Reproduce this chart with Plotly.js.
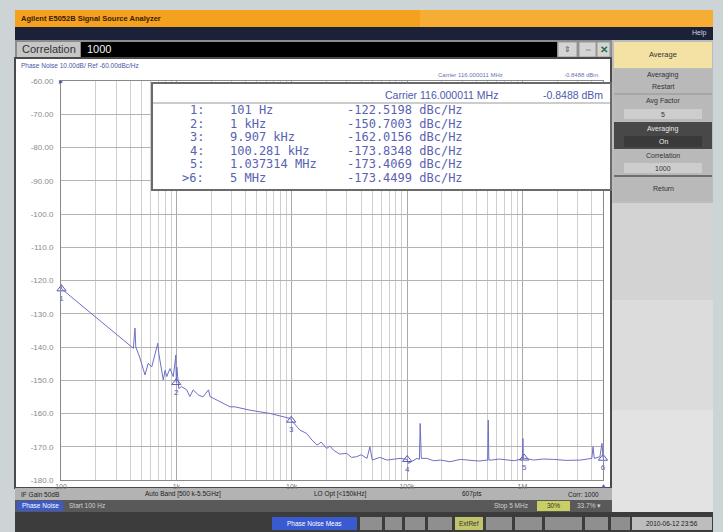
<!DOCTYPE html>
<html><head><meta charset="utf-8">
<script src="https://cdn.plot.ly/plotly-3.0.1.min.js"></script>
<style>html,body{margin:0;padding:0;background:#cdd4d5;}#chart{width:723px;height:532px;}</style>
</head><body><div id="chart"></div>
<script>
// ---- data ----
const freqHz = [100, 101, 424, 438, 445, 480, 535, 570, 612, 655, 690, 705, 722, 770, 800, 826, 880, 940, 975, 990, 1000, 1010, 1050, 1110, 1230, 1310, 1400, 1550, 1700, 1900, 1960, 2480, 2920, 3230, 4340, 6510, 9730, 9907, 11800, 13500, 15000, 16600, 18000, 20100, 21500, 23000, 26000, 30000, 33000, 36600, 40000, 45000, 47600, 50000, 58000, 67000, 78000, 87000, 100281, 103000, 122000, 128000, 130000, 133000, 148000, 170000, 195000, 236000, 290000, 354000, 420000, 500000, 506000, 512000, 540000, 630000, 730000, 850000, 1000000, 1010000, 1020000, 1037314, 1250000, 1500000, 1870000, 2400000, 3200000, 4000000, 4100000, 4200000, 4700000, 4900000, 5000000];
const phaseNoise = [-121.0, -122.5, -140.4, -134.3, -140.0, -143.0, -148.4, -144.9, -146.0, -142.4, -138.9, -142.0, -143.9, -149.9, -147.0, -148.9, -146.5, -148.9, -144.5, -142.4, -150.7, -146.0, -152.5, -151.9, -152.9, -154.9, -152.9, -154.4, -155.0, -152.9, -154.9, -156.7, -158.0, -158.0, -159.0, -160.0, -161.5, -162.0, -165.0, -166.0, -168.0, -169.5, -168.6, -170.5, -169.8, -171.0, -172.2, -172.0, -173.2, -173.0, -172.4, -173.5, -170.0, -174.0, -173.2, -174.0, -173.6, -173.5, -173.8, -175.0, -173.5, -173.8, -163.0, -173.5, -173.5, -174.2, -174.0, -174.5, -173.8, -174.0, -174.3, -174.0, -162.0, -174.0, -174.0, -173.7, -174.0, -174.2, -173.6, -167.5, -173.8, -173.4, -174.0, -173.7, -173.8, -174.1, -174.0, -173.5, -170.0, -173.5, -173.0, -169.0, -173.4];
const markerFreq = [101, 1000, 9907, 100281, 1037314, 5000000];
const markerVal = [-122.5198, -150.7003, -162.0156, -173.8348, -173.4069, -173.4499];
const markerNames = ["1", "2", "3", "4", "5", "6"];
const markerRowLabels = ["1:", "2:", "3:", "4:", "5:", ">6:"];
const markerFreqText = ["101 Hz", "1 kHz", "9.907 kHz", "100.281 kHz", "1.037314 MHz", "5 MHz"];
const markerValText = ["-122.5198 dBc/Hz", "-150.7003 dBc/Hz", "-162.0156 dBc/Hz", "-173.8348 dBc/Hz", "-173.4069 dBc/Hz", "-173.4499 dBc/Hz"];
const yTickVals = [-60, -70, -80, -90, -100, -110, -120, -130, -140, -150, -160, -170, -180];
const yTickText = ["-60.00", "-70.00", "-80.00", "-90.00", "-100.0", "-110.0", "-120.0", "-130.0", "-140.0", "-150.0", "-160.0", "-170.0", "-180.0"];
const xTickVals = [100, 1000, 10000, 100000, 1000000];
const xTickText = ["100", "1k", "10k", "100k", "1M"];

// ---- helpers: pixel -> paper coords for the instrument chrome ----
const L = 61, R = 603, T = 81, B = 480;
const px = x => (x - L) / (R - L);
const py = y => (B - y) / (B - T);
const shapes = [], ann = [];
function rect(x0, y0, x1, y1, fill, line, layer, lw) {
  shapes.push({type: 'rect', xref: 'paper', yref: 'paper', x0: px(x0), x1: px(x1), y0: py(y1), y1: py(y0),
    fillcolor: fill, line: {color: line || fill, width: line ? (lw || 1) : 0}, layer: layer || 'below'});
}
function hline(x0, x1, y, color, w, layer) {
  shapes.push({type: 'line', xref: 'paper', yref: 'paper', x0: px(x0), x1: px(x1), y0: py(y), y1: py(y),
    line: {color: color, width: w || 1}, layer: layer || 'below'});
}
function txt(x, y, t, size, color, anchor, family, bold) {
  ann.push({xref: 'paper', yref: 'paper', x: px(x), y: py(y), text: bold ? '<b>' + t + '</b>' : t, showarrow: false,
    xanchor: anchor || 'left', yanchor: 'middle',
    font: {size: size, color: color, family: family || 'Liberation Sans, Arial, sans-serif'}});
}

// screen frame
rect(15, 10, 713, 532, '#3a3a3a');
// title bar
rect(15, 10, 713, 27, '#f3a11f');
rect(420, 10, 713, 27, '#f5ad34');
txt(19, 18.5, 'Agilent E5052B Signal Source Analyzer', 7.5, '#3a2000', 'left', null, true);
// navy bar
rect(15, 27, 713, 40, '#1b2139');
txt(709, 33.5, 'Help', 7, '#cfd3e0', 'right');
// entry bar
rect(15, 40, 612, 58, '#8c8c8c');
rect(17, 42, 80, 57, '#c6c6c6');
txt(20, 49.5, 'Correlation', 11, '#333');
rect(81, 42, 557, 57, '#000000');
txt(85, 49.5, '1000', 11, '#f0f0f0');
rect(558, 42, 577, 57, '#d4d4d4', '#999');
rect(579, 42, 596, 57, '#d4d4d4', '#999');
rect(597, 42, 610, 57, '#d4d4d4', '#999');
txt(567.5, 49.5, '⇕', 8, '#555', 'center');
txt(587.5, 49.5, '⇔', 8, '#555', 'center');
txt(603.5, 49.5, '✕', 10, '#2d6a3a', 'center', null, true);
// softkey panel
rect(612, 40, 713, 532, '#bdbdbd');
rect(612, 203, 713, 512, '#d3d3d3');
rect(612, 300, 713, 512, '#dcdcdc');
rect(612, 410, 713, 512, '#e3e3e3');
rect(614, 42, 712, 68, '#f4e2a4');
txt(663, 55, 'Average', 7.5, '#333', 'center');
rect(614, 69, 712, 93, '#b9b9b9');
txt(663, 75, 'Averaging', 7, '#333', 'center');
txt(663, 86, 'Restart', 7, '#333', 'center');
hline(614, 712, 94, '#8f8f8f', 1);
rect(614, 95, 712, 121, '#b9b9b9');
txt(663, 101, 'Avg Factor', 7, '#333', 'center');
rect(624, 109, 702, 119, '#cdcdcd');
txt(663, 114, '5', 7, '#333', 'center');
rect(614, 122, 712, 149, '#484848');
txt(663, 128.5, 'Averaging', 7, '#e8e8e8', 'center');
rect(624, 136, 702, 147, '#3a3a3a');
txt(663, 141.5, 'On', 7, '#f0f0f0', 'center');
rect(614, 150, 712, 175, '#b9b9b9');
txt(663, 155.5, 'Correlation', 7, '#333', 'center');
rect(624, 163, 702, 173, '#cdcdcd');
txt(663, 168, '1000', 7, '#333', 'center');
hline(614, 712, 176, '#6e6e6e', 2);
rect(614, 177, 712, 201, '#b9b9b9');
txt(663, 188.5, 'Return', 7, '#333', 'center');
// graph panel
rect(15, 58, 611, 488, '#ffffff', '#4a4a4a', 'below', 2);
txt(19, 65.5, 'Phase Noise 10.00dB/ Ref -60.00dBc/Hz', 6.5, '#4b55a8');
txt(505, 75, 'Carrier 116.000011 MHz', 6, '#6a74b8', 'right');
txt(600, 75, '-0.8488 dBm', 6, '#6a74b8', 'right');
txt(57, 81, '▸', 8, '#4b55a8', 'left');
// status bars
rect(15, 488, 612, 500, '#b3b3b3');
txt(19, 494, 'IF Gain 50dB', 6.5, '#222');
txt(143, 494, 'Auto Band [500 k-5.5GHz]', 6.5, '#222');
txt(312, 494, 'LO Opt [<150kHz]', 6.5, '#222');
txt(460, 494, '607pts', 6.5, '#222');
txt(566, 494, 'Corr: 1000', 6.5, '#222');
rect(15, 500, 612, 512, '#595959');
rect(17, 501, 63, 511, '#3d5bc6');
txt(40, 506, 'Phase Noise', 6.5, '#ffffff', 'center');
txt(67, 506, 'Start 100 Hz', 6.5, '#d0d0d0');
txt(492, 506, 'Stop 5 MHz', 6.5, '#d0d0d0');
rect(537, 501, 570, 511, '#c9cf62');
txt(553.5, 506, '30%', 6.5, '#333', 'center');
txt(575, 506, '33.7% ▾', 6.5, '#d0d0d0');
rect(15, 512, 713, 532, '#3c3c3c');
rect(272, 517, 357, 530, '#3a5ad0');
txt(314.5, 523.5, 'Phase Noise Meas', 6.5, '#ffffff', 'center');
rect(360, 517, 382, 530, '#8f8f8f');
rect(385, 517, 402, 530, '#8f8f8f');
rect(405, 517, 425, 530, '#8f8f8f');
rect(428, 517, 452, 530, '#8f8f8f');
rect(455, 517, 483, 530, '#c2c46c');
txt(469, 523.5, 'ExtRef', 6.5, '#333', 'center');
rect(486, 517, 512, 530, '#8f8f8f');
rect(515, 517, 542, 530, '#8f8f8f');
rect(545, 517, 582, 530, '#8f8f8f');
rect(585, 517, 608, 530, '#8f8f8f');
rect(611, 517, 630, 530, '#8f8f8f');
rect(632, 517, 712, 530, '#bdbdbd');
txt(672, 523.5, '2010-06-12 23:56', 6.5, '#222', 'center');
// marker table box (above grid)
rect(152, 83, 611, 190, '#ffffff', '#6a6a6a', 'above', 2);
hline(153, 610, 103, '#9a9a9a', 1, 'above');
txt(500, 95, 'Carrier 116.000011 MHz', 10.5, '#4e5aae', 'right');
txt(605, 95, '-0.8488 dBm', 10.5, '#4e5aae', 'right');
const mono = 'DejaVu Sans Mono, Liberation Mono, monospace';
const rowY = [110, 123.6, 137.2, 150.8, 164.4, 178];
markerRowLabels.forEach((s, i) => txt(206, rowY[i], s, 12, '#5862b2', 'right', mono));
markerFreqText.forEach((s, i) => txt(228, rowY[i], s, 12, '#5862b2', 'left', mono));
markerValText.forEach((s, i) => txt(345, rowY[i], s, 12, '#5862b2', 'left', mono));
txt(603, 485, '▲', 7, '#4b55a8', 'center');

const traces = [
  {x: freqHz, y: phaseNoise, type: 'scatter', mode: 'lines', line: {color: '#6d6fc4', width: 1}, hoverinfo: 'skip', cliponaxis: false},
  {x: markerFreq, y: markerVal, type: 'scatter', mode: 'markers+text', text: markerNames, textposition: 'bottom center',
   textfont: {size: 8, color: '#5a5cb8', family: 'Liberation Sans, Arial'},
   marker: {symbol: 'triangle-up-open', size: 8, color: '#5a5cb8', line: {width: 1}}, cliponaxis: false, hoverinfo: 'skip'}
];

const layout = {
  width: 723, height: 532, autosize: false,
  margin: {l: L, r: 723 - R, t: T, b: 532 - B, pad: 0},
  paper_bgcolor: '#cdd4d5', plot_bgcolor: 'rgba(0,0,0,0)',
  showlegend: false,
  font: {family: 'Liberation Sans, Arial, sans-serif'},
  xaxis: {type: 'log', range: [2, Math.log10(5e6)], tickvals: xTickVals, ticktext: xTickText,
    tickfont: {size: 7, color: '#777'}, ticks: '', showgrid: true, gridcolor: '#a9a9a9', gridwidth: 1,
    minor: {dtick: 'D1', showgrid: true, gridcolor: '#cfcfcf', gridwidth: 1, ticks: ''},
    showline: true, linecolor: '#8a8a8a', linewidth: 1, mirror: true, zeroline: false, fixedrange: true},
  yaxis: {range: [-180, -60], tickvals: yTickVals, ticktext: yTickText, tickfont: {size: 8, color: '#8a8a8a'},
    ticks: '', showgrid: true, gridcolor: '#b3b3b3', gridwidth: 1, ticklabelstandoff: 5,
    showline: true, linecolor: '#8a8a8a', linewidth: 1, mirror: true, zeroline: false, fixedrange: true},
  shapes: shapes, annotations: ann
};
Plotly.newPlot('chart', traces, layout, {displayModeBar: false, staticPlot: true});
</script></body></html>
